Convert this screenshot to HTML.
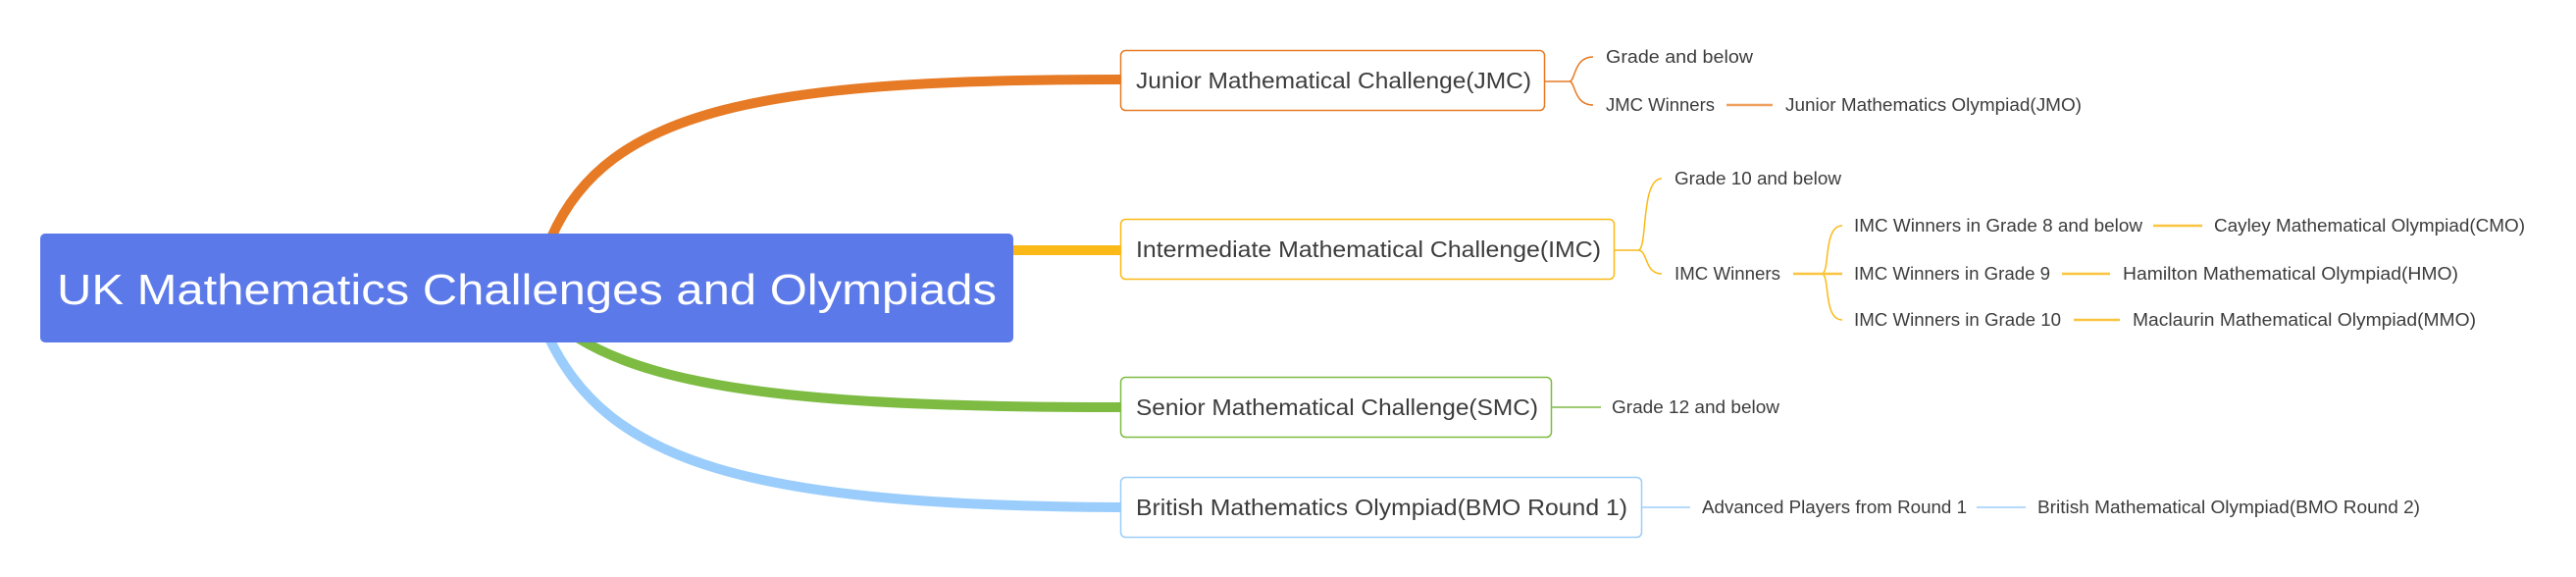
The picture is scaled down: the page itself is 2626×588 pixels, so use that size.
<!DOCTYPE html>
<html><head><meta charset="utf-8"><style>
html,body{margin:0;padding:0;background:#fff;width:2626px;height:588px;overflow:hidden}
text{font-family:"Liberation Sans",sans-serif;fill:#3c3c3c}
</style></head><body>
<svg width="2626" height="588" viewBox="0 0 2626 588" xmlns="http://www.w3.org/2000/svg">
<!-- main branches -->
<path d="M562 242 C620 110, 780 81, 1142 81" fill="none" stroke="#E67A25" stroke-width="10"/>
<path d="M1030 255 L1142 255" fill="none" stroke="#FBB917" stroke-width="10"/>
<path d="M590 345 C680 400, 850 415, 1142 415" fill="none" stroke="#7DBB42" stroke-width="10"/>
<path d="M560 345 C620 470, 760 515, 1142 517" fill="none" stroke="#9ACDFC" stroke-width="10"/>
<!-- root -->
<rect x="41" y="238" width="992" height="111" rx="5" fill="#5B79E8"/>
<text x="58" y="310" font-size="44" style="fill:#fff" textLength="958" lengthAdjust="spacingAndGlyphs">UK Mathematics Challenges and Olympiads</text>
<!-- level1 boxes -->
<rect x="1142.5" y="51.5" width="432" height="61" rx="5" fill="#fff" stroke="#E67A25" stroke-width="1.5"/>
<text x="1158" y="90" font-size="23" textLength="403" lengthAdjust="spacingAndGlyphs">Junior Mathematical Challenge(JMC)</text>
<rect x="1142.5" y="223.5" width="503" height="61" rx="5" fill="#fff" stroke="#FBB917" stroke-width="1.5"/>
<text x="1158" y="262" font-size="23" textLength="474" lengthAdjust="spacingAndGlyphs">Intermediate Mathematical Challenge(IMC)</text>
<rect x="1142.5" y="384.5" width="439" height="61" rx="5" fill="#fff" stroke="#7DBB42" stroke-width="1.5"/>
<text x="1158" y="423" font-size="23" textLength="410" lengthAdjust="spacingAndGlyphs">Senior Mathematical Challenge(SMC)</text>
<rect x="1142.5" y="486.5" width="531" height="61" rx="5" fill="#fff" stroke="#9ACDFC" stroke-width="1.5"/>
<text x="1158" y="525" font-size="23" textLength="501" lengthAdjust="spacingAndGlyphs">British Mathematics Olympiad(BMO Round 1)</text>
<!-- JMC children -->
<g fill="none" stroke="#E67A25" stroke-width="1.5">
<path d="M1575 83 H1600 M1600 83 C1606 83 1604 58 1624 58 M1600 83 C1606 83 1604 107 1624 107"/>
</g>
<path d="M1760 107 H1807" stroke="#EFA060" stroke-width="2.5"/>
<g font-size="18">
<text x="1637" y="64" textLength="150" lengthAdjust="spacingAndGlyphs">Grade and below</text>
<text x="1637" y="113" textLength="111" lengthAdjust="spacingAndGlyphs">JMC Winners</text>
<text x="1820" y="113" textLength="302" lengthAdjust="spacingAndGlyphs">Junior Mathematics Olympiad(JMO)</text>
</g>
<!-- IMC children -->
<g fill="none" stroke="#FBB917" stroke-width="1.5">
<path d="M1646 255 H1670 M1670 255 C1680 255 1672 182 1694 182 M1670 255 C1680 255 1676 279 1694 279"/>
<path d="M1857 279 C1866 279 1858 230 1878 230 M1857 279 C1866 279 1858 326 1878 326"/>
</g>
<g stroke="#FBC43F" stroke-width="2.5">
<path d="M1828 279 H1878"/>
<path d="M2195 230 H2245"/>
<path d="M2102 279 H2151"/>
<path d="M2114 326 H2161"/>
</g>
<g font-size="18">
<text x="1707" y="188" textLength="170" lengthAdjust="spacingAndGlyphs">Grade 10 and below</text>
<text x="1707" y="285" textLength="108" lengthAdjust="spacingAndGlyphs">IMC Winners</text>
<text x="1890" y="236" textLength="294" lengthAdjust="spacingAndGlyphs">IMC Winners in Grade 8 and below</text>
<text x="2257" y="236" textLength="317" lengthAdjust="spacingAndGlyphs">Cayley Mathematical Olympiad(CMO)</text>
<text x="1890" y="285" textLength="200" lengthAdjust="spacingAndGlyphs">IMC Winners in Grade 9</text>
<text x="2164" y="285" textLength="342" lengthAdjust="spacingAndGlyphs">Hamilton Mathematical Olympiad(HMO)</text>
<text x="1890" y="332" textLength="211" lengthAdjust="spacingAndGlyphs">IMC Winners in Grade 10</text>
<text x="2174" y="332" textLength="350" lengthAdjust="spacingAndGlyphs">Maclaurin Mathematical Olympiad(MMO)</text>
</g>
<!-- SMC -->
<path d="M1582 415 H1632" stroke="#9CCB73" stroke-width="2"/>
<text x="1643" y="421" font-size="18" textLength="171" lengthAdjust="spacingAndGlyphs">Grade 12 and below</text>
<!-- BMO -->
<g stroke="#B5DAFC" stroke-width="2">
<path d="M1674 517 H1723"/>
<path d="M2015 517 H2065"/>
</g>
<g font-size="18">
<text x="1735" y="523" textLength="270" lengthAdjust="spacingAndGlyphs">Advanced Players from Round 1</text>
<text x="2077" y="523" textLength="390" lengthAdjust="spacingAndGlyphs">British Mathematical Olympiad(BMO Round 2)</text>
</g>
</svg>
</body></html>
